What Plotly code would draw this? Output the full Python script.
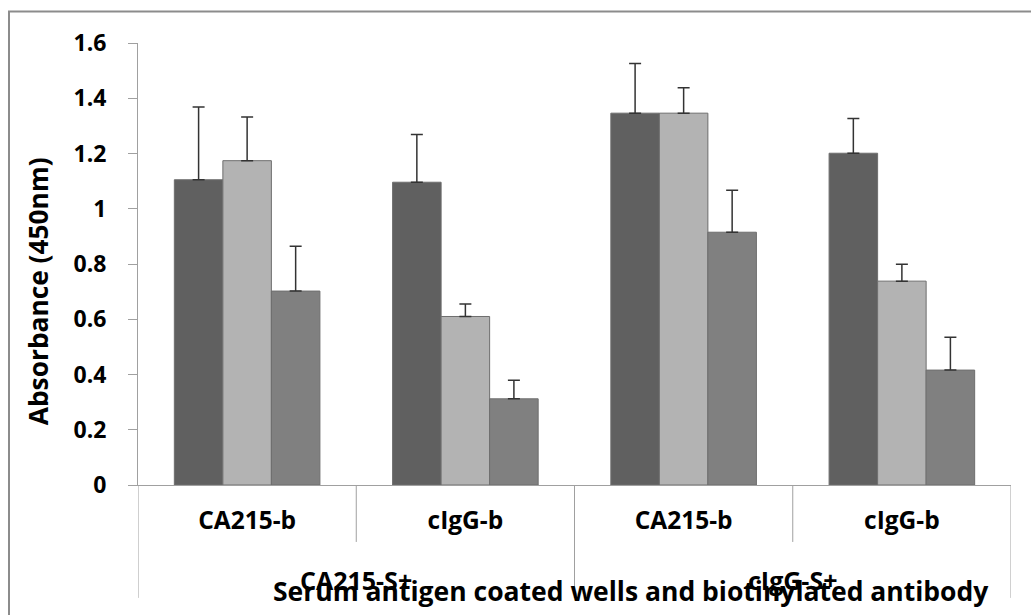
import plotly.graph_objects as go

# ---- data ----
inner_labels = ["CA215-b", "cIgG-b", "CA215-b", "cIgG-b"]
outer_labels = ["CA215-S+", "cIgG-S+"]
outer_span = [[0, 1], [2, 3]]  # indices of inner categories in each outer group

series_names = ["Series 1", "Series 2", "Series 3"]
series_values = [
    [1.105, 1.096, 1.346, 1.201],
    [1.174, 0.610, 1.346, 0.738],
    [0.702, 0.312, 0.915, 0.416],
]
series_errors = [
    [0.263, 0.173, 0.180, 0.126],
    [0.158, 0.045, 0.092, 0.061],
    [0.162, 0.067, 0.152, 0.119],
]
series_colors = ["#606060", "#b3b3b3", "#808080"]

y_title = "Absorbance (450nm)"
x_title = "Serum antigen coated wells and biotinylated antibody"

FONT = "Open Sans"
x_pos = list(range(len(inner_labels)))

fig = go.Figure()
for name, vals, errs, col in zip(series_names, series_values, series_errors, series_colors):
    fig.add_trace(go.Bar(
        x=x_pos, y=vals, name=name,
        marker=dict(color=col, line=dict(color="#6e6e6e", width=1)),
        error_y=dict(type="data", array=errs, symmetric=False, arrayminus=[0] * len(errs),
                     color="#333333", thickness=1.5, width=6),
        showlegend=False,
    ))

W, H = 1031, 615
L, R, T, B = 138, 20, 42.6, 130
ph = H - T - B
pw = W - L - R

def py(p):
    return (H - B - p) / ph

def px(p):
    return (p - L) / pw

shapes = []
# inner separators (between categories within each outer group)
for grp in outer_span:
    for i in grp[:-1]:
        shapes.append(dict(type="line", xref="x", yref="paper", x0=i + 0.5, x1=i + 0.5,
                           y0=0, y1=py(542), line=dict(color="#a0a0a0", width=1)))
# outer separators
bounds = [outer_span[0][0] - 0.5] + [grp[-1] + 0.5 for grp in outer_span]
for b in bounds:
    shapes.append(dict(type="line", xref="x", yref="paper", x0=b, x1=b,
                       y0=0, y1=py(598), line=dict(color="#a0a0a0", width=1)))
# chart frame
shapes.append(dict(type="rect", xref="paper", yref="paper", x0=px(9), x1=1.3,
                   y0=-0.6, y1=py(11), line=dict(color="#8c8c8c", width=2)))

annotations = []
for lab, grp in zip(outer_labels, outer_span):
    annotations.append(dict(text=lab, xref="x", yref="paper", x=sum(grp) / len(grp),
                            y=py(580), xanchor="center", yanchor="middle", showarrow=False,
                            font=dict(family=FONT, size=25, color="#000000", weight="bold")))
annotations.append(dict(text=x_title, xref="paper", yref="paper", x=px(631), y=py(591),
                        xanchor="center", yanchor="middle", showarrow=False,
                        font=dict(family=FONT, size=26.5, color="#000000", weight="bold")))
annotations.append(dict(text=y_title, xref="paper", yref="paper", x=px(38), y=py(291),
                        xanchor="center", yanchor="middle", showarrow=False, textangle=-90,
                        font=dict(family=FONT, size=26.3, color="#000000", weight="bold")))

fig.update_layout(
    width=W, height=H,
    margin=dict(l=L, r=R, t=T, b=B, pad=0),
    paper_bgcolor="white", plot_bgcolor="white",
    barmode="group", bargap=0.333, bargroupgap=0,
    shapes=shapes, annotations=annotations,
    xaxis=dict(range=[-0.5, len(inner_labels) - 0.5], tickmode="array", tickvals=x_pos,
               ticktext=inner_labels, ticks="", showline=True, linecolor="#a0a0a0",
               linewidth=1, showgrid=False, zeroline=False, ticklabelstandoff=14,
               tickfont=dict(family=FONT, size=24.5, color="#000000", weight="bold")),
    yaxis=dict(range=[0, 1.6], dtick=0.2, tick0=0, ticks="outside", ticklen=9,
               tickcolor="#a0a0a0", showline=True, linecolor="#a0a0a0", linewidth=1,
               showgrid=False, zeroline=False, ticklabelstandoff=17,
               tickfont=dict(family=FONT, size=23, color="#000000", weight="bold")),
)

fig.write_html("out.html")
